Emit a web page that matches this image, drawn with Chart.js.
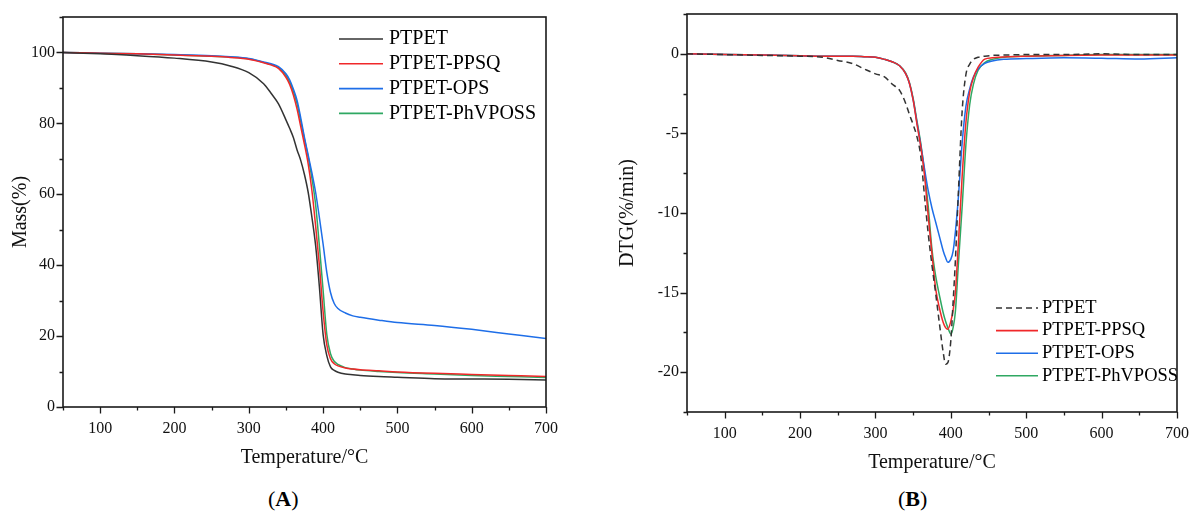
<!DOCTYPE html>
<html>
<head>
<meta charset="utf-8">
<script src="https://cdn.jsdelivr.net/npm/chart.js@4.4.0/dist/chart.umd.min.js"></script>
<style>
  body { margin: 0; background: #fff; }
  #page { position: relative; width: 1193px; height: 515px; font-family: "Liberation Serif", "Times New Roman", serif; }
  .panel { position: absolute; top: 0; width: 596px; height: 480px; }
  .tag { position: absolute; top: 487px; font-size: 22px; line-height: 24px; color: #000; }
</style>
</head>
<body>
<div id="page">
  <div class="panel" style="left:0"><canvas id="tgaChart" width="596" height="480"></canvas></div>
  <div class="panel" style="left:597px"><canvas id="dtgChart" width="596" height="480"></canvas></div>
  <div class="tag" style="left:268px">(<b>A</b>)</div>
  <div class="tag" style="left:898px">(<b>B</b>)</div>
</div>
<script>
/** Series names and colours **/
const seriesNames = ["PTPET", "PTPET-PPSQ", "PTPET-OPS", "PTPET-PhVPOSS"];
const seriesColors = ["#333333", "#f0282a", "#1e6ee8", "#2fa862"];

/** Panel A: TGA mass curves (%) **/
const tgaTemps = [50, 100, 150, 200, 250, 275, 300, 320, 330, 340, 350, 355, 360, 365, 370, 375, 380, 385, 390, 395, 400, 405, 410, 415, 420, 430, 440, 450, 475, 500, 550, 600, 650, 700];
const tgaPTPET = [100, 99.6, 99.1, 98.4, 97.3, 96.2, 94.3, 91.2, 88.5, 85.5, 81, 78.6, 76, 72.5, 69.5, 65.5, 60.5, 53.5, 45.5, 34, 20.5, 14.5, 11.3, 10.3, 9.8, 9.3, 9.1, 8.9, 8.6, 8.4, 8.0, 7.9, 7.8, 7.6];
const tgaPPSQ = [100, 99.8, 99.6, 99.3, 98.9, 98.6, 98.1, 97.1, 96.5, 95.5, 93, 91, 88, 84, 79, 74, 68.5, 61, 51, 40, 27, 17.5, 13.6, 12.2, 11.6, 11, 10.7, 10.5, 10.2, 9.9, 9.5, 9.2, 8.9, 8.6];
const tgaOPS = [100, 99.8, 99.6, 99.4, 99.1, 98.8, 98.3, 97.3, 96.8, 96, 94, 92.3, 89.7, 86.5, 81.5, 76, 71, 66, 60.5, 53.5, 46, 38, 32.3, 29.2, 27.8, 26.5, 25.7, 25.3, 24.5, 23.8, 23, 21.9, 20.6, 19.3];
const tgaPhVPOSS = [100, 99.8, 99.6, 99.3, 98.9, 98.7, 98.2, 97.2, 96.6, 95.7, 93.5, 91.7, 89, 85.5, 80.5, 75.5, 70.5, 64.5, 57, 45.5, 33, 20.5, 15, 12.9, 12, 11.1, 10.7, 10.4, 10, 9.7, 9.3, 8.9, 8.6, 8.3];

/** Panel B: DTG curves (%/min) **/
const dtgTemps = [50, 100, 150, 200, 230, 250, 270, 285, 300, 312, 322, 332, 340, 345, 350, 355, 360, 365, 370, 375, 380, 385, 390, 393, 396, 400, 403, 406, 410, 415, 420, 425, 430, 436, 445, 455, 470, 500, 550, 600, 650, 700];
const dtgPTPET = [0, -0.05, -0.1, -0.15, -0.22, -0.42, -0.62, -0.95, -1.26, -1.45, -1.9, -2.3, -3.1, -3.8, -4.45, -5.2, -6.4, -8.9, -11.3, -13.3, -15.1, -17, -18.8, -19.5, -19.4, -18, -15.6, -13, -8.7, -3.6, -1.3, -0.65, -0.35, -0.22, -0.15, -0.1, -0.08, -0.05, -0.05, 0, -0.05, -0.05];
const dtgPPSQ = [0, -0.05, -0.08, -0.12, -0.15, -0.15, -0.15, -0.18, -0.22, -0.35, -0.5, -0.75, -1.25, -1.85, -2.9, -4.4, -5.8, -7.6, -10.2, -12.6, -14.8, -16, -16.9, -17.2, -17.3, -16.8, -16.1, -15, -11.9, -7.7, -4.3, -2.4, -1.5, -0.86, -0.33, -0.25, -0.2, -0.15, -0.1, -0.08, -0.08, -0.08];
const dtgOPS = [0, -0.05, -0.08, -0.12, -0.15, -0.15, -0.15, -0.18, -0.22, -0.35, -0.5, -0.75, -1.25, -1.85, -2.9, -4.3, -5.7, -7.2, -8.6, -9.7, -10.6, -11.5, -12.4, -12.8, -13.1, -12.9, -12.4, -11.2, -9, -5.6, -3.3, -2.2, -1.45, -0.95, -0.6, -0.45, -0.35, -0.3, -0.25, -0.28, -0.33, -0.25];
const dtgPhVPOSS = [0, -0.05, -0.08, -0.12, -0.15, -0.15, -0.15, -0.18, -0.22, -0.35, -0.5, -0.75, -1.2, -1.8, -2.8, -4.2, -5.6, -7.4, -9.6, -12.3, -14, -15.2, -16.3, -16.8, -17.2, -17.6, -17.2, -16.2, -13.2, -9.6, -5.7, -3.2, -1.9, -1.05, -0.55, -0.35, -0.22, -0.15, -0.1, -0.05, -0.05, -0.05];

/** Shared fonts **/
const tickFont = { family: '"Liberation Serif", serif', size: 16 };
const titleFont = { family: '"Liberation Serif", serif', size: 20 };
const textColor = "#111";

//  Pair a temperature list with a value list
function toPoints(temps, values) {
  return temps.map((t, i) => ({ x: t, y: values[i] }));
}

//  Is a tick value a multiple of the major step
function isMajor(value, step) {
  const r = Math.abs(value % step);
  return r < 1e-6 || Math.abs(r - step) < 1e-6;
}

/** Plugin: closed frame plus outward major/minor tick marks **/
const frameTicks = {
  id: "frameTicks",
  afterDraw(chart, args, opts) {
    const { ctx, chartArea: a, scales } = chart;
    ctx.save();
    ctx.strokeStyle = "#1a1a1a";
    ctx.lineWidth = 1.3;
    ctx.beginPath();
    scales.x.ticks.forEach((t) => {
      const px = Math.round(scales.x.getPixelForValue(t.value)) + 0.5;
      const len = isMajor(t.value, opts.xMajor) ? 6.5 : 3.5;
      ctx.moveTo(px, a.bottom);
      ctx.lineTo(px, a.bottom + len);
    });
    scales.y.ticks.forEach((t) => {
      const py = Math.round(scales.y.getPixelForValue(t.value)) + 0.5;
      const len = isMajor(t.value, opts.yMajor) ? 6.5 : 3.5;
      ctx.moveTo(a.left, py);
      ctx.lineTo(a.left - len, py);
    });
    ctx.stroke();
    ctx.lineWidth = 1.6;
    ctx.strokeRect(a.left, a.top, a.right - a.left, a.bottom - a.top);
    ctx.restore();
  },
};

/** Plugin: legend drawn inside the plot area **/
const insideLegend = {
  id: "insideLegend",
  afterDraw(chart, args, opts) {
    const { ctx, chartArea: a } = chart;
    ctx.save();
    ctx.font = opts.fontSize + 'px "Liberation Serif", serif';
    ctx.textBaseline = "middle";
    chart.data.datasets.forEach((ds, i) => {
      const y = opts.top + i * opts.rowGap;
      const x0 = a.right - opts.fromRight;
      ctx.strokeStyle = ds.borderColor;
      ctx.lineWidth = 1.6;
      ctx.setLineDash(ds.borderDash || []);
      ctx.beginPath();
      ctx.moveTo(x0, y);
      ctx.lineTo(x0 + opts.lineLen, y);
      ctx.stroke();
      ctx.setLineDash([]);
      ctx.fillStyle = "#000";
      ctx.fillText(ds.label, x0 + opts.lineLen + opts.gap, y);
    });
    ctx.restore();
  },
};

//  Build one dataset
function makeDataset(i, temps, values, dash) {
  return {
    label: seriesNames[i],
    data: toPoints(temps, values),
    borderColor: seriesColors[i],
    borderWidth: 1.5,
    borderDash: dash || [],
    pointRadius: 0,
    cubicInterpolationMode: "monotone",
    fill: false,
  };
}

//  Axis options shared by both panels
function xAxis(height, titlePad, labelPad) {
  return {
    type: "linear",
    min: 50,
    max: 700,
    //  Fixed axis height, and no extra side padding for the end labels
    afterFit: (s) => {
      s.height = height;
      s.paddingLeft = 0;
      s.paddingRight = 0;
    },
    grid: { display: false, drawTicks: false },
    border: { display: false },
    ticks: {
      stepSize: 50, autoSkip: false, maxRotation: 0, padding: labelPad,
      color: textColor, font: tickFont,
      callback: (v) => (isMajor(v, 100) ? v : ""),
    },
    title: { display: true, text: "Temperature/°C", color: textColor, font: titleFont, padding: { top: 0, bottom: titlePad } },
  };
}

function yAxis(min, max, step, major, width, label, titlePad) {
  return {
    min: min,
    max: max,
    afterFit: (s) => {
      s.width = width;
      s.paddingTop = 0;
      s.paddingBottom = 0;
    },
    grid: { display: false, drawTicks: false },
    border: { display: false },
    ticks: {
      stepSize: step, autoSkip: false, padding: 8,
      color: textColor, font: tickFont,
      callback: (v) => (isMajor(v, major) ? v : ""),
    },
    title: { display: true, text: label, color: textColor, font: titleFont, padding: { top: titlePad, bottom: 0 } },
  };
}

/** Panel A chart **/
const tgaChart = new Chart(document.getElementById("tgaChart"), {
  type: "line",
  data: {
    datasets: [
      makeDataset(0, tgaTemps, tgaPTPET),
      makeDataset(1, tgaTemps, tgaPPSQ),
      makeDataset(2, tgaTemps, tgaOPS),
      makeDataset(3, tgaTemps, tgaPhVPOSS),
    ],
  },
  options: {
    responsive: false,
    animation: false,
    layout: { padding: { left: 0, right: 50, top: 17, bottom: 0 } },
    scales: {
      x: xAxis(73, 10, 12),
      y: yAxis(0, 110, 10, 20, 63, "Mass(%)", 9),
    },
    plugins: {
      legend: { display: false },
      tooltip: { enabled: false },
      frameTicks: { xMajor: 100, yMajor: 20 },
      insideLegend: { fromRight: 207, lineLen: 44, gap: 6, top: 39, rowGap: 24.8, fontSize: 20 },
    },
  },
  plugins: [frameTicks, insideLegend],
});

/** Panel B chart **/
const dtgChart = new Chart(document.getElementById("dtgChart"), {
  type: "line",
  data: {
    datasets: [
      makeDataset(0, dtgTemps, dtgPTPET, [6, 4]),
      makeDataset(1, dtgTemps, dtgPPSQ),
      makeDataset(2, dtgTemps, dtgOPS),
      makeDataset(3, dtgTemps, dtgPhVPOSS),
    ],
  },
  options: {
    responsive: false,
    animation: false,
    layout: { padding: { left: 0, right: 16, top: 14, bottom: 0 } },
    scales: {
      x: xAxis(68, 5, 12),
      y: yAxis(-22.5, 2.5, 2.5, 5, 90, "DTG(%/min)", 19),
    },
    plugins: {
      legend: { display: false },
      tooltip: { enabled: false },
      frameTicks: { xMajor: 100, yMajor: 5 },
      insideLegend: { fromRight: 181, lineLen: 42, gap: 4, top: 308, rowGap: 22.6, fontSize: 18.5 },
    },
  },
  plugins: [frameTicks, insideLegend],
});
</script>
</body>
</html>
